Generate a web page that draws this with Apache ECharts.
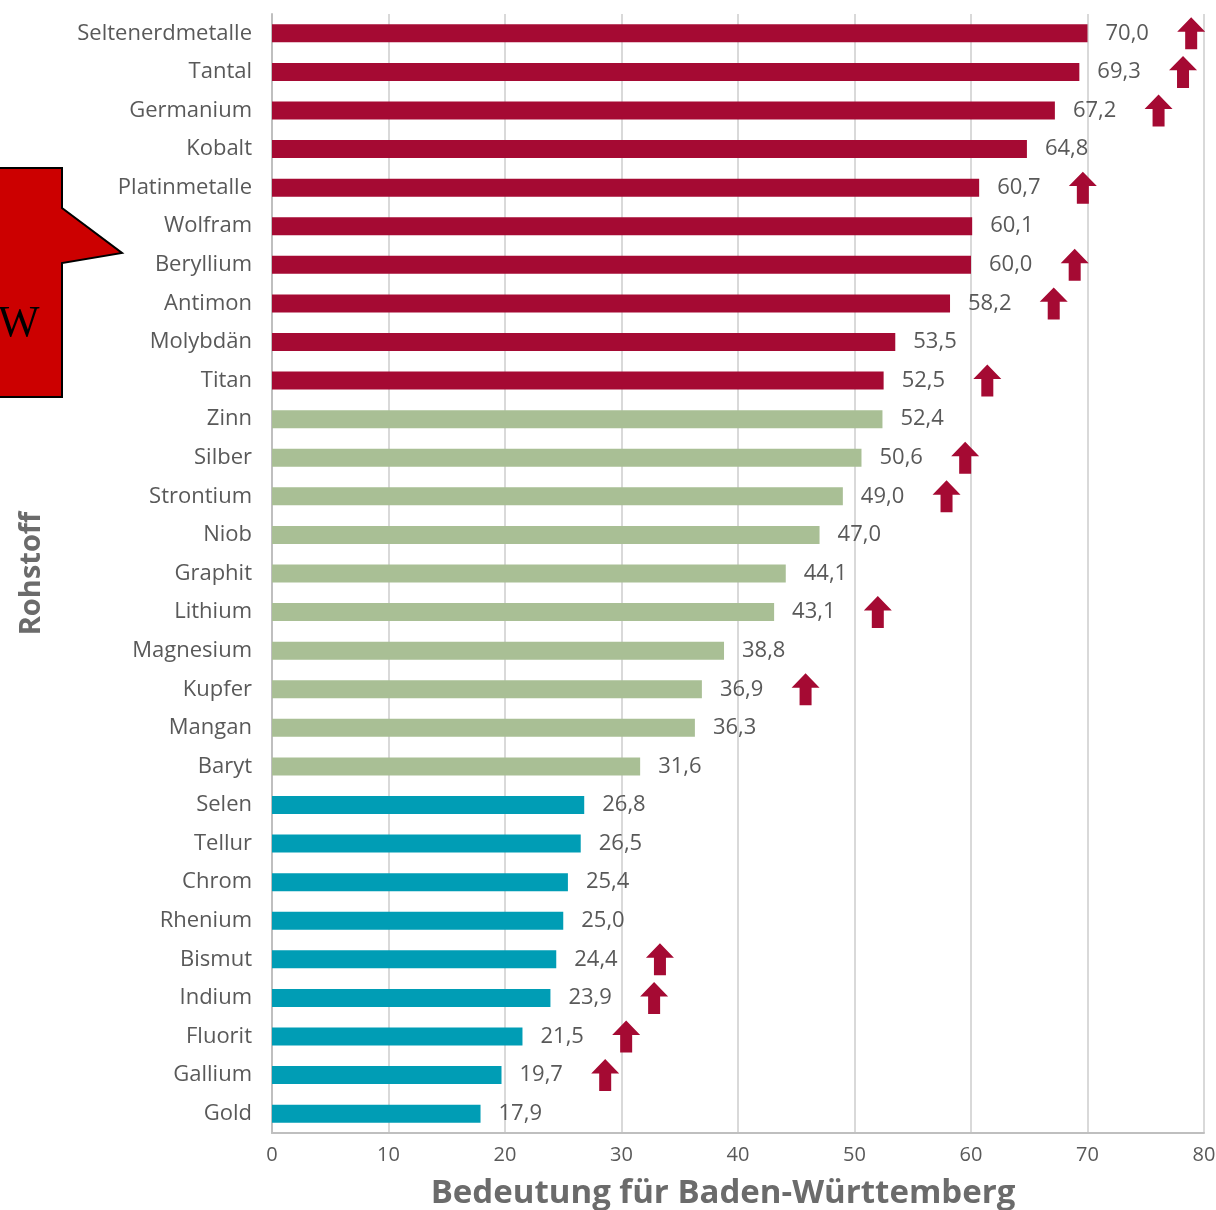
<!DOCTYPE html>
<html>
<head>
<meta charset="utf-8">
<script src="https://cdn.jsdelivr.net/npm/echarts@6/dist/echarts.min.js"></script>
<style>
  html, body { margin: 0; padding: 0; background: #fff; }
  #main { width: 1216px; height: 1210px; }
</style>
</head>
<body>
<div id="main"></div>
<script>
// Rohstoffe, von oben nach unten
var rohstoffe = ['Seltenerdmetalle', 'Tantal', 'Germanium', 'Kobalt', 'Platinmetalle', 'Wolfram',
    'Beryllium', 'Antimon', 'Molybdän', 'Titan', 'Zinn', 'Silber', 'Strontium', 'Niob', 'Graphit',
    'Lithium', 'Magnesium', 'Kupfer', 'Mangan', 'Baryt', 'Selen', 'Tellur', 'Chrom', 'Rhenium',
    'Bismut', 'Indium', 'Fluorit', 'Gallium', 'Gold'];
var bedeutung = [70.0, 69.3, 67.2, 64.8, 60.7, 60.1, 60.0, 58.2, 53.5, 52.5, 52.4, 50.6, 49.0, 47.0,
    44.1, 43.1, 38.8, 36.9, 36.3, 31.6, 26.8, 26.5, 25.4, 25.0, 24.4, 23.9, 21.5, 19.7, 17.9];
// 0 = rot, 1 = grün, 2 = blau
var gruppe = [0,0,0,0,0,0,0,0,0,0, 1,1,1,1,1,1,1,1,1,1, 2,2,2,2,2,2,2,2,2];
// Pfeil nach oben (Tendenz steigend)
var steigend = [1,1,1,0,1,0,1,1,0,1, 0,1,1,0,0,1,0,1,0,0, 0,0,0,0,1,1,1,1,0];
var xTicks = [0, 10, 20, 30, 40, 50, 60, 70, 80];

var farben = ['#a50a33', '#a9bf95', '#009db5'];
var grau = '#595959';

var barData = bedeutung.map(function (v, i) {
    return { value: v, itemStyle: { color: farben[gruppe[i]] } };
});
var pfeilData = [];
steigend.forEach(function (s, i) {
    if (s) pfeilData.push([bedeutung[i] + 8.9, i]);
});

var myChart = echarts.init(document.getElementById('main'));
var option = {
    animation: false,
    grid: { left: 272, right: 12, top: 14, bottom: 77, outerBoundsMode: 'none' },
    xAxis: {
        type: 'value',
        min: xTicks[0],
        max: xTicks[xTicks.length - 1],
        interval: 10,
        name: 'Bedeutung für Baden-Württemberg',
        nameLocation: 'middle',
        nameGap: 44,
        nameTextStyle: { color: '#6b6b6b', fontSize: 33, fontWeight: 'bold', fontFamily: 'Open Sans', padding: [0, 30, 0, 0] },
        axisLine: { show: true, lineStyle: { color: '#bfbfbf', width: 2 } },
        axisTick: { show: false },
        axisLabel: { color: grau, fontSize: 20, margin: 12, fontFamily: 'Open Sans' },
        splitLine: { show: true, lineStyle: { color: '#d9d9d9', width: 2 } }
    },
    yAxis: {
        type: 'category',
        data: rohstoffe,
        inverse: true,
        name: 'Rohstoff',
        nameLocation: 'middle',
        nameGap: 226,
        nameRotate: 90,
        nameTextStyle: { color: '#6b6b6b', fontSize: 29, fontWeight: 'bold', fontFamily: 'Open Sans' },
        axisLine: { show: true, lineStyle: { color: '#bfbfbf', width: 2 } },
        axisTick: { show: false },
        axisLabel: { color: grau, fontSize: 22, margin: 20, fontFamily: 'Open Sans' }
    },
    series: [
        {
            type: 'bar',
            data: barData,
            barWidth: 18,
            label: {
                show: true,
                position: 'right',
                distance: 18,
                color: grau,
                fontSize: 22,
                fontFamily: 'Open Sans',
                formatter: function (p) { return p.value.toFixed(1).replace('.', ','); }
            }
        },
        {
            type: 'scatter',
            data: pfeilData,
            symbol: 'path://M14,0 L28,14 L20,14 L20,31 L8,31 L8,14 L0,14 Z',
            symbolSize: [28, 32],
            itemStyle: { color: '#a50a33', opacity: 1 },
            z: 5
        }
    ],
    graphic: [
        {
            type: 'polygon',
            shape: { points: [[-5, 168], [62, 168], [62, 208], [122, 253], [62, 263], [62, 397], [-5, 397]] },
            style: { fill: '#cc0000', stroke: '#000', lineWidth: 2 }
        },
        {
            type: 'text',
            left: -2,
            top: 302,
            style: { text: 'W', fill: '#000', font: '44px "Liberation Serif", serif' }
        }
    ]
};
myChart.setOption(option);
</script>
</body>
</html>
